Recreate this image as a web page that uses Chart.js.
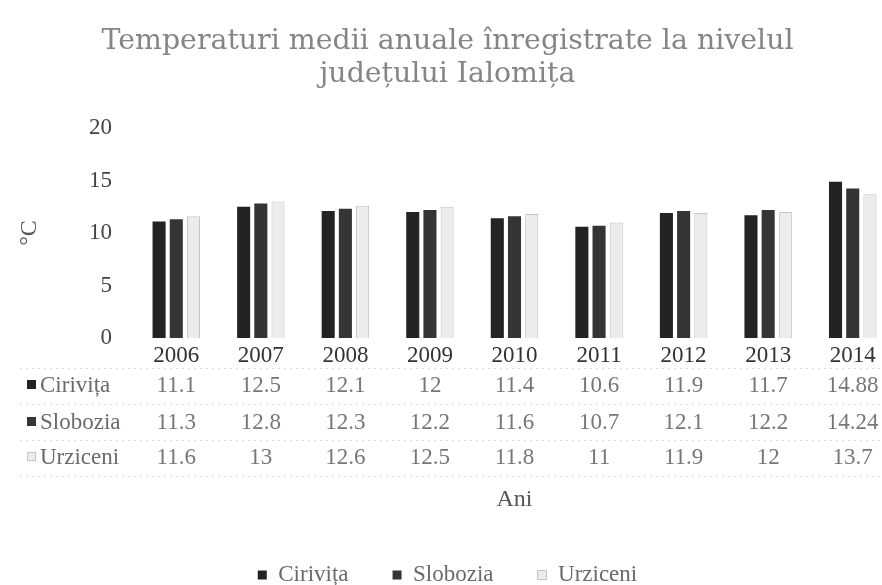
<!DOCTYPE html>
<html>
<head>
<meta charset="utf-8">
<script src="https://cdn.jsdelivr.net/npm/chart.js@4"></script>
<style>
  html, body { margin: 0; padding: 0; background: #fff; overflow: hidden; }
  #wrap { width: 905px; height: 585px; }
</style>
</head>
<body>
<div id="wrap"><canvas id="c" width="905" height="585"></canvas></div>
<script>
const titleLines = ['Temperaturi medii anuale înregistrate la nivelul', 'județului Ialomița'];
const years = ['2006', '2007', '2008', '2009', '2010', '2011', '2012', '2013', '2014'];
const seriesNames = ['Cirivița', 'Slobozia', 'Urziceni'];
const ciriv = [11.1, 12.5, 12.1, 12, 11.4, 10.6, 11.9, 11.7, 14.88];
const slobozia = [11.3, 12.8, 12.3, 12.2, 11.6, 10.7, 12.1, 12.2, 14.24];
const urziceni = [11.6, 13, 12.6, 12.5, 11.8, 11, 11.9, 12, 13.7];
const yTicks = [0, 5, 10, 15, 20];
const yTitle = '°C';
const xTitle = 'Ani';

const fills = ['#232323', '#353535', '#ececec'];
const borders = ['#232323', '#353535', '#c4c4c4'];
const rowY = [385, 422, 457];
const serif = "'Liberation Serif', 'Times New Roman', serif";

const tablePlugin = {
  id: 'dataTable',
  afterDraw(chart) {
    const ctx = chart.ctx;
    const xs = chart.scales.x;
    ctx.save();
    ctx.strokeStyle = '#dcdcdc';
    ctx.lineWidth = 1;
    ctx.setLineDash([2, 4]);
    [368, 404, 440, 476].forEach(y => {
      ctx.beginPath();
      ctx.moveTo(20, y + 0.5);
      ctx.lineTo(880, y + 0.5);
      ctx.stroke();
    });
    ctx.setLineDash([]);
    ctx.font = '23px ' + serif;
    ctx.textBaseline = 'middle';
    const rows = [ciriv, slobozia, urziceni];
    rows.forEach((vals, r) => {
      const y = rowY[r];
      ctx.fillStyle = fills[r];
      ctx.strokeStyle = borders[r];
      ctx.fillRect(27, y - 5, 9, 9);
      if (r === 2) ctx.strokeRect(27.5, y - 4.5, 8, 8);
      ctx.fillStyle = '#6a6a6a';
      ctx.textAlign = 'left';
      ctx.fillText(seriesNames[r], 40, y + 1);
      ctx.fillStyle = '#777';
      ctx.textAlign = 'center';
      vals.forEach((v, i) => {
        ctx.fillText(String(v), xs.getPixelForValue(i), y + 1);
      });
    });
    ctx.restore();
  }
};

new Chart(document.getElementById('c'), {
  type: 'bar',
  data: {
    labels: years,
    datasets: [
      { label: seriesNames[0], data: ciriv, backgroundColor: fills[0], borderColor: borders[0], borderWidth: 0 },
      { label: seriesNames[1], data: slobozia, backgroundColor: fills[1], borderColor: borders[1], borderWidth: 0 },
      { label: seriesNames[2], data: urziceni, backgroundColor: fills[2], borderColor: borders[2], borderWidth: 1 }
    ]
  },
  options: {
    responsive: false,
    animation: false,
    devicePixelRatio: 1,
    datasets: { bar: { categoryPercentage: 0.61, barPercentage: 0.76 } },
    layout: { padding: { top: 0, left: 0, right: 10, bottom: -11.5 } },
    plugins: {
      title: {
        display: true,
        text: titleLines,
        color: '#858585',
        font: { family: "'DejaVu Serif', serif", size: 28.4, weight: 'normal', lineHeight: 1.13 },
        padding: { top: 26, bottom: 37.8 }
      },
      legend: {
        display: true,
        position: 'bottom',
        labels: {
          color: '#6a6a6a',
          font: { family: serif, size: 23 },
          boxWidth: 9,
          boxHeight: 9,
          padding: 44
        }
      },
      tooltip: { enabled: false }
    },
    scales: {
      x: {
        grid: { display: false, drawTicks: false },
        border: { display: false },
        ticks: { color: '#333', font: { family: serif, size: 23 }, padding: 4, maxRotation: 0, autoSkip: false },
        title: { display: true, text: xTitle, color: '#555', font: { family: serif, size: 24 }, padding: { top: 0, bottom: 5.1 } },
        afterFit(scale) { scale.height = 181.5; }
      },
      y: {
        min: 0, max: 20,
        afterBuildTicks(scale) { scale.ticks = yTicks.map(v => ({ value: v })); },
        grid: { display: false, drawTicks: false },
        border: { display: false },
        ticks: { color: '#444', font: { family: serif, size: 23 }, padding: 22 },
        title: { display: true, text: yTitle, color: '#555', font: { family: serif, size: 24 }, padding: { top: 15, bottom: 0 } },
        afterFit(scale) { scale.width = 134; }
      }
    }
  },
  plugins: [tablePlugin]
});
</script>
</body>
</html>
